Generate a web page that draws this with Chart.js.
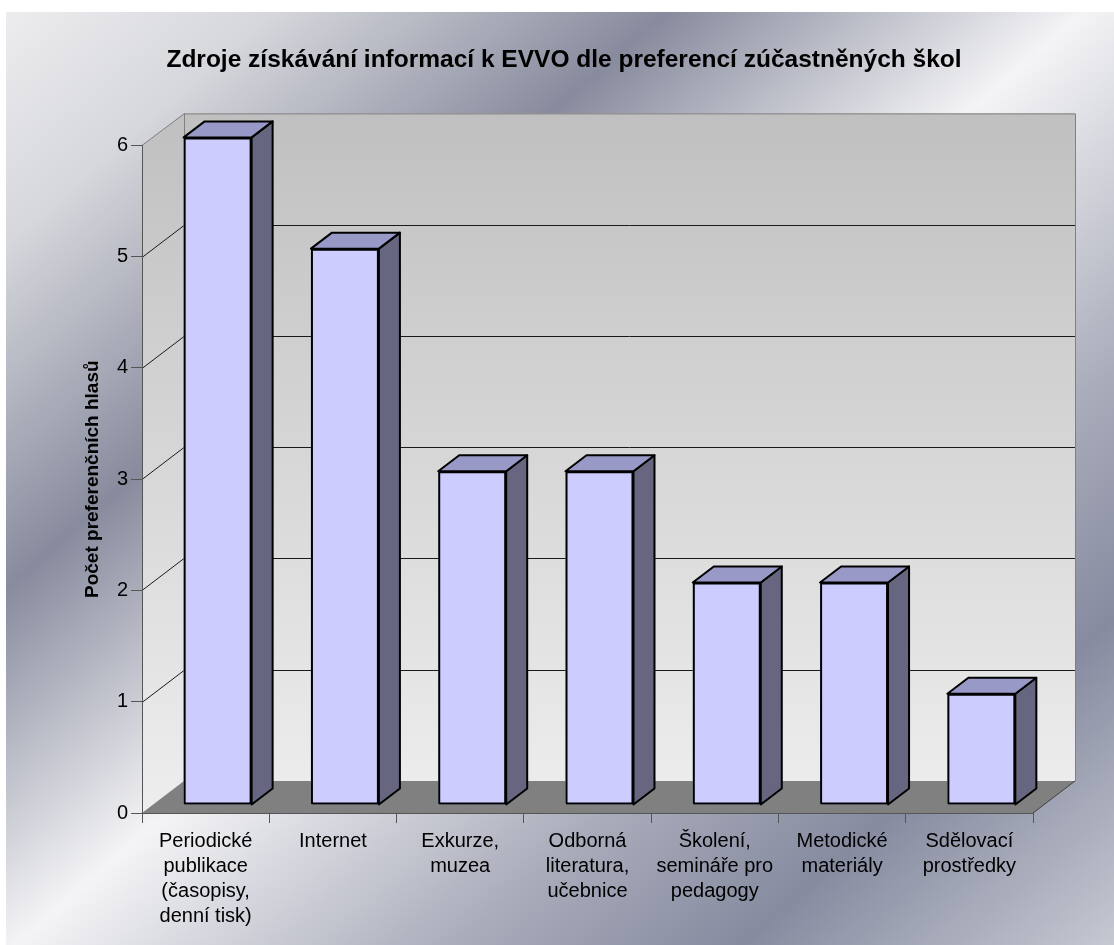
<!DOCTYPE html>
<html>
<head>
<meta charset="utf-8">
<style>
  html, body { margin: 0; padding: 0; background: #ffffff; }
  canvas { display: block; }
</style>
<script src="https://cdn.jsdelivr.net/npm/chart.js@4.4.0/dist/chart.umd.min.js"></script>
</head>
<body>
<canvas id="sourcesChart" width="1114" height="945"></canvas>
<script>
const chartTitle = 'Zdroje získávání informací k EVVO dle preferencí zúčastněných škol';
const yAxisTitle = 'Počet preferenčních hlasů';
const categories = [
    ['Periodické', 'publikace', '(časopisy,', 'denní tisk)'],
    ['Internet'],
    ['Exkurze,', 'muzea'],
    ['Odborná', 'literatura,', 'učebnice'],
    ['Školení,', 'semináře pro', 'pedagogy'],
    ['Metodické', 'materiály'],
    ['Sdělovací', 'prostředky']
];
const votes = [6, 5, 3, 3, 2, 2, 1];
const yMin = 0;
const yMax = 6;
const yStep = 1;

(function () {
    'use strict';

    const FONT = '"Liberation Sans", Arial, sans-serif';

    // fake 3D offsets (pixels)
    const WALL_DX = 42, WALL_DY = -32;
    const BAR_DX = 12, BAR_DY = -8;
    const DEPTH_DX = 21, DEPTH_DY = -16;

    // chart area sits at x 142..1033; title centred at ~564
    const PAD_LEFT = 95, PAD_RIGHT = 81;
    const AREA_LEFT = 142;

    function polygon(ctx, pts) {
        ctx.beginPath();
        ctx.moveTo(pts[0][0], pts[0][1]);
        for (let i = 1; i < pts.length; i++) ctx.lineTo(pts[i][0], pts[i][1]);
        ctx.closePath();
    }

    const backdropPlugin = {
        id: 'backdrop',
        beforeDraw(chart) {
            const ctx = chart.ctx;
            const w = chart.width, h = chart.height;
            ctx.save();
            ctx.fillStyle = '#ffffff';
            ctx.fillRect(0, 0, w, h);

            const bg = ctx.createLinearGradient(0, 0, 950, 1088);
            bg.addColorStop(0, '#eeeef0');
            bg.addColorStop(0.13, '#d6d7dc');
            bg.addColorStop(0.31, '#878b9d');
            bg.addColorStop(0.5, '#f4f4f6');
            bg.addColorStop(0.7, '#a9acba');
            bg.addColorStop(0.83, '#868ba0');
            bg.addColorStop(1, '#c6c9d2');
            ctx.fillStyle = bg;
            ctx.fillRect(6, 12, w - 6, h - 12);

            const xs = chart.scales.x, ys = chart.scales.y;
            const left = xs.left, right = xs.right;
            const top = ys.getPixelForValue(yMax);
            const bottom = ys.getPixelForValue(yMin);

            const wall = ctx.createLinearGradient(0, top + WALL_DY, 0, bottom);
            wall.addColorStop(0, '#c0c0c0');
            wall.addColorStop(1, '#eeeeee');
            ctx.fillStyle = wall;
            polygon(ctx, [[left, top], [left + WALL_DX, top + WALL_DY], [left + WALL_DX, bottom + WALL_DY], [left, bottom]]);
            ctx.fill();
            ctx.fillRect(left + WALL_DX, top + WALL_DY, right - left, bottom - top);

            ctx.fillStyle = '#808080';
            polygon(ctx, [[left, bottom], [right, bottom], [right + WALL_DX, bottom + WALL_DY], [left + WALL_DX, bottom + WALL_DY]]);
            ctx.fill();

            // gridlines on side and back wall
            ctx.lineWidth = 1;
            ctx.strokeStyle = '#1a1a1a';
            for (let v = yMin + yStep; v < yMax; v += yStep) {
                const py = Math.round(ys.getPixelForValue(v)) + 0.5;
                ctx.beginPath();
                ctx.moveTo(left, py);
                ctx.lineTo(left + WALL_DX, py + WALL_DY);
                ctx.lineTo(right + WALL_DX, py + WALL_DY);
                ctx.stroke();
            }

            // wall edges
            ctx.strokeStyle = '#808080';
            ctx.beginPath();
            ctx.moveTo(left, top);
            ctx.lineTo(left + WALL_DX, top + WALL_DY + 0.5);
            ctx.lineTo(right + WALL_DX + 0.5, top + WALL_DY + 0.5);
            ctx.lineTo(right + WALL_DX + 0.5, bottom + WALL_DY);
            ctx.moveTo(left + WALL_DX + 0.5, top + WALL_DY);
            ctx.lineTo(left + WALL_DX + 0.5, bottom + WALL_DY);
            ctx.stroke();

            ctx.strokeStyle = '#404040';
            ctx.beginPath();
            ctx.moveTo(right, bottom);
            ctx.lineTo(right + WALL_DX, bottom + WALL_DY);
            ctx.stroke();
            ctx.restore();
        }
    };

    const barFacesPlugin = {
        id: 'barFaces',
        beforeDatasetDraw(chart) {
            chart.ctx.save();
            chart.ctx.translate(BAR_DX, BAR_DY);
        },
        afterDatasetDraw(chart, args) {
            const ctx = chart.ctx;
            ctx.lineWidth = 2;
            ctx.lineJoin = 'round';
            ctx.strokeStyle = '#000000';
            args.meta.data.forEach(bar => {
                const l = bar.x - bar.width / 2, r = bar.x + bar.width / 2;
                const t = bar.y, b = bar.base;
                ctx.fillStyle = '#666680';
                polygon(ctx, [[r, t], [r + DEPTH_DX, t + DEPTH_DY], [r + DEPTH_DX, b + DEPTH_DY], [r, b]]);
                ctx.fill();
                ctx.stroke();
                ctx.fillStyle = '#9999c8';
                polygon(ctx, [[l, t], [l + DEPTH_DX, t + DEPTH_DY], [r + DEPTH_DX, t + DEPTH_DY], [r, t]]);
                ctx.fill();
                ctx.stroke();
                ctx.strokeRect(l + 1, t + 1, r - l - 2, b - t - 2);
            });
            ctx.restore();
        }
    };

    function initializeChart() {
        const canvas = document.getElementById('sourcesChart');
        if (!canvas || typeof Chart === 'undefined') return;

        new Chart(canvas, {
            type: 'bar',
            data: {
                labels: categories,
                datasets: [{
                    label: yAxisTitle,
                    data: votes,
                    backgroundColor: '#ccccff',
                    borderColor: '#000000',
                    borderWidth: 0,
                    categoryPercentage: 1,
                    barPercentage: 0.534,
                    clip: false
                }]
            },
            options: {
                responsive: false,
                devicePixelRatio: 1,
                animation: false,
                layout: { padding: { left: PAD_LEFT, right: PAD_RIGHT, top: 0, bottom: 0 } },
                plugins: {
                    legend: { display: false },
                    tooltip: { enabled: false },
                    title: {
                        display: true,
                        text: chartTitle,
                        color: '#000000',
                        font: { family: FONT, size: 24.5, weight: 'bold', lineHeight: 1.2 },
                        padding: { top: 46, bottom: 70 }
                    }
                },
                scales: {
                    x: {
                        grid: {
                            offset: true,
                            drawOnChartArea: false,
                            drawTicks: true,
                            tickLength: 10,
                            color: '#555555'
                        },
                        border: { color: '#555555', width: 1 },
                        ticks: {
                            color: '#000000',
                            padding: 6,
                            maxRotation: 0,
                            autoSkip: false,
                            font: { family: FONT, size: 20, lineHeight: 1.25 }
                        },
                        afterFit(scale) { scale.height = 132; }
                    },
                    y: {
                        min: yMin,
                        max: yMax,
                        grid: {
                            drawOnChartArea: false,
                            drawTicks: true,
                            tickLength: 11,
                            color: '#555555'
                        },
                        border: { color: '#555555', width: 1 },
                        ticks: {
                            stepSize: yStep,
                            color: '#000000',
                            padding: 3,
                            font: { family: FONT, size: 20 }
                        },
                        title: {
                            display: true,
                            text: yAxisTitle,
                            color: '#000000',
                            font: { family: FONT, size: 19, weight: 'bold', lineHeight: 1.2 },
                            padding: { top: -14, bottom: 0 }
                        },
                        afterFit(scale) { scale.width = AREA_LEFT - PAD_LEFT; }
                    }
                }
            },
            plugins: [backdropPlugin, barFacesPlugin]
        });
    }

    if (document.readyState === 'loading') {
        document.addEventListener('DOMContentLoaded', initializeChart);
    } else {
        initializeChart();
    }
})();
</script>
</body>
</html>
